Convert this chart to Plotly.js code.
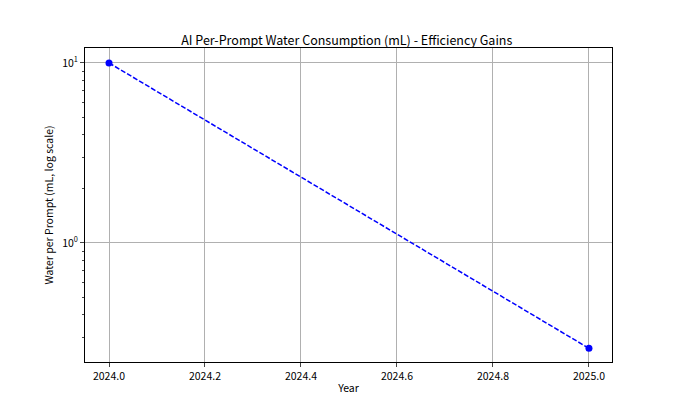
<!DOCTYPE html>
<html>
<head>
<script src="https://cdn.plot.ly/plotly-3.0.1.min.js"></script>
<style>body{margin:0}</style>
</head>
<body>
<div id="chart" style="width:680px;height:408px"></div>
<script>
var years = [2024, 2025];
var water = [10, 0.26];

var trace = {
    x: years,
    y: water,
    mode: 'lines+markers',
    line: {color: 'blue', width: 1.5, dash: '5px,2px'},
    marker: {color: 'blue', size: 7},
    type: 'scatter'
};

var fnt = {family: 'Noto Sans CJK SC, DejaVu Sans', size: 10.5, color: 'black'};

var layout = {
    width: 680,
    height: 408,
    margin: {l: 85, r: 68, t: 48, b: 46},
    title: {text: 'AI Per-Prompt Water Consumption (mL) - Efficiency Gains',
            font: {family: fnt.family, size: 12.5, color: 'black'}, x: 0.51, y: 0.91},
    font: fnt,
    showlegend: false,
    plot_bgcolor: 'white',
    paper_bgcolor: 'white',
    xaxis: {
        title: {text: 'Year', font: fnt, standoff: 3},
        range: [2023.95, 2025.048],
        tickvals: [2024, 2024.2, 2024.4, 2024.6, 2024.8, 2025],
        ticktext: ['2024.0', '2024.2', '2024.4', '2024.6', '2024.8', '2025.0'],
        showgrid: true, gridcolor: '#b0b0b0', gridwidth: 0.8,
        showline: true, linecolor: 'black', mirror: true,
        ticks: 'outside', ticklen: 4, zeroline: false
    },
    yaxis: {
        title: {text: 'Water per Prompt (mL, log scale)', font: fnt, standoff: 6},
        type: 'log',
        range: [-0.661, 1.083],
        tickvals: [1, 10],
        ticktext: ['10<sup>0</sup>', '10<sup>1</sup>'],
        showgrid: true, gridcolor: '#b0b0b0', gridwidth: 0.8,
        showline: true, linecolor: 'black', mirror: true,
        ticks: 'outside', ticklen: 4, zeroline: false,
        minor: {tickvals: [0.3, 0.4, 0.5, 0.6, 0.7, 0.8, 0.9, 2, 3, 4, 5, 6, 7, 8, 9],
                ticks: 'outside', ticklen: 2, showgrid: false}
    }
};

Plotly.newPlot('chart', [trace], layout, {displayModeBar: false});
</script>
</body>
</html>
